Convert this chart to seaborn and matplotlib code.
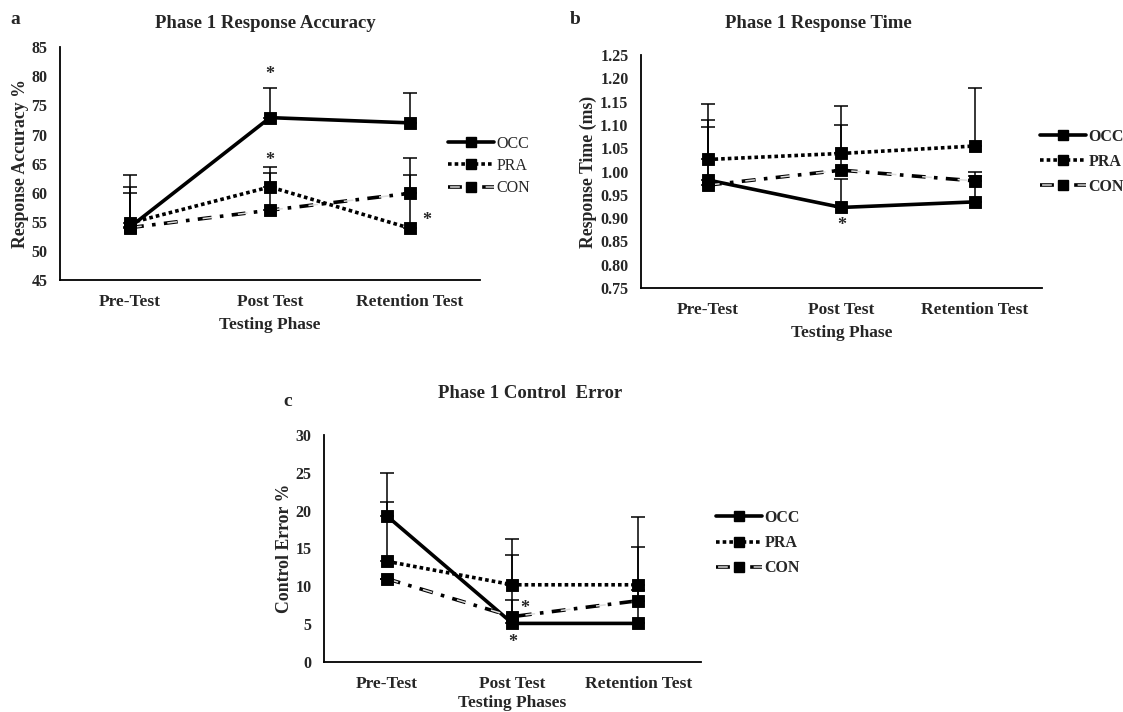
import numpy as np
import pandas as pd
import matplotlib
matplotlib.use("Agg")
import matplotlib.pyplot as plt
from matplotlib.lines import Line2D
from matplotlib.legend_handler import HandlerTuple
import seaborn as sns

# ========== Data ==========

phases = ["Pre-Test", "Post Test", "Retention Test"]
groups = ["OCC", "PRA", "CON"]

# panel a - response accuracy (%)
acc_occ = [54.1, 72.9, 72.0]
acc_pra = [54.8, 61.0, 53.9]
acc_con = [54.0, 57.0, 59.9]
acc_occ_top = [63.0, 78.0, 77.1]
acc_pra_top = [61.0, 64.5, 65.9]
acc_con_top = [60.0, 63.4, 63.0]

# panel b - response time (ms)
rt_occ = [0.982, 0.923, 0.935]
rt_pra = [1.026, 1.039, 1.055]
rt_con = [0.971, 1.003, 0.980]
rt_occ_top = [1.110, 0.985, 0.990]
rt_pra_top = [1.145, 1.140, 1.180]
rt_con_top = [1.095, 1.100, 1.000]

# panel c - control error (%)
ce_occ = [19.3, 5.1, 5.1]
ce_pra = [13.3, 10.2, 10.2]
ce_con = [11.0, 6.0, 8.1]
ce_occ_top = [25.0, 14.1, 15.2]
ce_pra_top = [21.1, 16.2, 19.2]
ce_con_top = [11.0, 8.2, 9.5]

# ========== Style ==========

sns.set_style("white")
plt.rcParams["font.family"] = ["Liberation Serif", "DejaVu Serif"]
plt.rcParams["font.weight"] = "bold"
plt.rcParams["lines.scale_dashes"] = False

lw = 2.6
# dash patterns in points
dash_map = {"OCC": "", "PRA": (2.6, 2.2), "CON": (10, 6, 2.6, 6)}
con_inner = (0, 1.5, 7, 17.1)       # light core of the CON dashes
tick_font = dict(fontweight="bold", fontsize=11.5)
xtick_font = dict(fontweight="bold", fontsize=12.5)


def long_frame(occ, pra, con):
    rows = []
    for g, vals in zip(groups, [occ, pra, con]):
        for i, v in enumerate(vals):
            rows.append({"phase": i, "group": g, "value": v})
    return pd.DataFrame(rows)


def draw_panel(ax, occ, pra, con, tops, ylim, yticks, fmt, ylabel, xlabel, xpad=5):
    df = long_frame(occ, pra, con)
    sns.lineplot(data=df, x="phase", y="value", style="group", style_order=groups,
                 dashes=dash_map, color="black", linewidth=lw, legend=False, ax=ax)
    # hollow look of CON dashes
    sns.lineplot(data=df[df.group == "CON"], x="phase", y="value", color="#dcdcdc",
                 linewidth=1.1, dashes=[con_inner], style="group",
                 legend=False, ax=ax)
    for line in ax.lines:
        line.set_dash_capstyle("butt")

    for vals, top in zip([occ, pra, con], tops):
        vals = np.array(vals)
        up = np.array(top) - vals
        ax.errorbar(range(3), vals, yerr=[np.zeros(3), up], fmt="none",
                    ecolor="black", elinewidth=1.1, capsize=5, capthick=1.1, zorder=3)
    sns.scatterplot(data=df, x="phase", y="value", marker="s", color="black",
                    s=64, edgecolor="black", legend=False, ax=ax, zorder=4)

    ax.set_xlim(-0.5, 2.5)
    ax.set_ylim(*ylim)
    ax.set_yticks(yticks)
    ax.set_yticklabels([fmt % t for t in yticks], **tick_font)
    ax.set_xticks(range(3))
    ax.set_xticklabels(phases, **xtick_font)
    ax.tick_params(length=0, pad=10, axis="x")
    ax.tick_params(length=0, pad=9, axis="y")
    ax.set_xlabel(xlabel, fontweight="bold", fontsize=12.5, labelpad=xpad)
    ax.set_ylabel(ylabel, fontweight="bold", fontsize=12.8, labelpad=2)
    for s in ["top", "right"]:
        ax.spines[s].set_visible(False)
    for s in ["left", "bottom"]:
        ax.spines[s].set_color("black")
        ax.spines[s].set_linewidth(1.3)


def legend_for(fig, x, y, weight, spacing):
    occ_h = Line2D([], [], color="black", lw=lw, marker="s", markersize=7)
    pra_h = Line2D([], [], color="black", lw=lw, dashes=dash_map["PRA"],
                   dash_capstyle="butt", marker="s", markersize=7)
    con_base = Line2D([], [], color="black", lw=lw, dashes=dash_map["CON"],
                      dash_capstyle="butt", marker="s", markersize=7)
    con_core = Line2D([], [], color="#dcdcdc", lw=1.1, dashes=con_inner,
                      dash_capstyle="butt")
    fig.legend([occ_h, pra_h, (con_base, con_core)], groups, loc="upper left",
               bbox_to_anchor=(x, y), frameon=False, borderpad=0, borderaxespad=0,
               handlelength=2.9, handletextpad=0.15, labelspacing=spacing,
               handler_map={tuple: HandlerTuple(ndivide=1, pad=0)},
               prop={"family": "Liberation Serif", "size": 11.5, "weight": weight})


# ========== Figure ==========

fig = plt.figure(figsize=(11.23, 7.12), dpi=100)
ax_a = fig.add_axes([0.0534, 0.6067, 0.374, 0.327])
ax_b = fig.add_axes([0.5708, 0.5955, 0.357, 0.327])
ax_c = fig.add_axes([0.2885, 0.0702, 0.3357, 0.319])

draw_panel(ax_a, acc_occ, acc_pra, acc_con, [acc_occ_top, acc_pra_top, acc_con_top],
           (45, 85), np.arange(45, 86, 5), "%d", "Response Accuracy %", "Testing Phase")
draw_panel(ax_b, rt_occ, rt_pra, rt_con, [rt_occ_top, rt_pra_top, rt_con_top],
           (0.75, 1.25), np.round(np.arange(0.75, 1.2501, 0.05), 2), "%.2f",
           "Response Time (ms)", "Testing Phase")
draw_panel(ax_c, ce_occ, ce_pra, ce_con, [ce_occ_top, ce_pra_top, ce_con_top],
           (0, 30), np.arange(0, 31, 5), "%d", "Control Error %", "Testing Phases",
           xpad=2)

# titles and panel letters
title_font = dict(ha="center", va="center", fontsize=13.5, fontweight="bold")
fig.text(265 / 1123, 1 - 23 / 712, "Phase 1 Response Accuracy", **title_font)
fig.text(818 / 1123, 1 - 23 / 712, "Phase 1 Response Time", **title_font)
fig.text(530 / 1123, 1 - 394 / 712, "Phase 1 Control  Error", **title_font)
letter_font = dict(ha="center", va="center", fontsize=14, fontweight="bold")
fig.text(15 / 1123, 1 - 20 / 712, "a", **letter_font)
fig.text(575 / 1123, 1 - 20 / 712, "b", **letter_font)
fig.text(288 / 1123, 1 - 401 / 712, "c", **letter_font)

# significance markers
star = dict(ha="center", va="center", fontsize=13, fontweight="bold")
ax_a.text(1, 80.3, "*", **star)
ax_a.text(1, 65.6, "*", **star)
ax_a.text(2.12, 55.3, "*", **star)
ax_b.text(1, 0.885, "*", **star)
ax_c.text(1, 2.6, "*", **star)
ax_c.text(1.1, 7.1, "*", **star)

legend_for(fig, 448 / 1123, 1 - 136 / 712, "normal", 0.38)
legend_for(fig, 1040 / 1123, 1 - 129 / 712, "bold", 0.55)
legend_for(fig, 716 / 1123, 1 - 510 / 712, "bold", 0.57)

fig.savefig("out.png", dpi=100)
